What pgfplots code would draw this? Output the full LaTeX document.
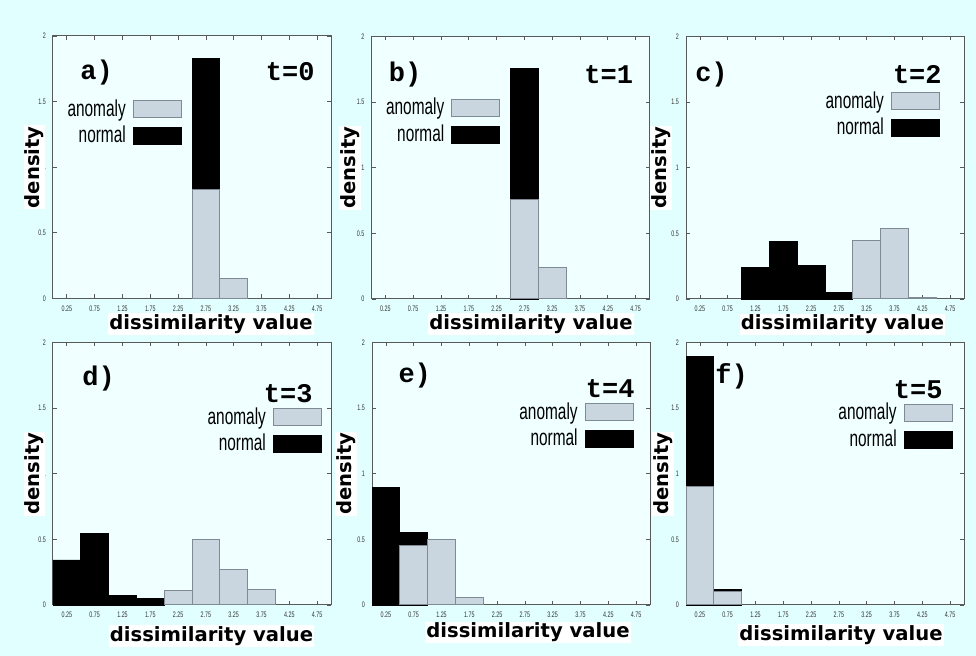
\documentclass[border=0pt]{standalone}
\usepackage{fontspec}
\setmainfont{Liberation Sans}
\newfontfamily\labfont{DejaVu Sans}
\newfontfamily\monofont{Liberation Mono}
\newfontfamily\narrowfont[FakeStretch=0.67]{Liberation Sans}
\usepackage{pgfplots}
\pgfplotsset{compat=1.18}
\definecolor{bgout}{HTML}{E2FFFF}
\definecolor{bgin}{HTML}{F0FFFF}
\definecolor{anom}{HTML}{C9D6E0}
\definecolor{anomedge}{HTML}{7F8A94}
\newcommand\axlab{\labfont\bfseries\fontsize{9.8}{10}\selectfont}
\newcommand\panfont{\monofont\bfseries\fontsize{13.5}{14}\selectfont}
\newcommand\legfont{\narrowfont\fontsize{11.5}{11.5}\selectfont}
\newcommand\tickfont{\narrowfont\fontsize{4}{4}\selectfont}
\pgfplotsset{
  panel/.style={
    scale only axis, width=139pt, height=131.25pt,
    anchor=south west, clip=false,
    xmin=0, xmax=5, ymin=0, ymax=2,
    xtick={0.25,0.75,1.25,1.75,2.25,2.75,3.25,3.75,4.25,4.75},
    ytick={0,0.5,1,1.5,2},
    xticklabels={0.25,0.75,1.25,1.75,2.25,2.75,3.25,3.75,4.25,4.75},
    yticklabels={0,0.5,1,1.5,2},
    tick align=inside, major tick length=2pt,
    /pgf/number format/assume math mode=true,
    ticklabel style={font=\tickfont, text=black!80},
    axis line style={draw=black!65, line width=0.5pt},
    every tick/.style={draw=black!65, line width=0.4pt},
    axis background/.style={fill=bgin},
    legend image code/.code={\draw[##1] (0pt,-4.25pt) rectangle (24pt,4.25pt);},
    legend style={draw=none, fill=none, inner sep=0pt, font=\legfont,
      row sep=3.5pt, column sep=3.5pt, nodes={inner sep=0pt}},
    legend cell align=right, legend plot pos=right,
  },
  nbar/.style={ybar, bar width=0.5, bar shift=0pt, fill=black, draw=black, forget plot},
  abar/.style={ybar, bar width=0.5, bar shift=0pt, fill=anom, draw=anomedge, line width=0.5pt, forget plot},
}
\tikzset{
  lab/.style={fill=white, inner sep=0.5pt, font=\axlab},
  pan/.style={inner sep=0pt, font=\panfont},
}
\begin{document}
\begin{tikzpicture}
\fill[bgout] (0,0) rectangle (488pt,328pt);
\path[use as bounding box] (0,0) rectangle (488pt,328pt);

% a) t=0
\begin{axis}[panel, at={(26.5pt,178.75pt)},
  legend style={at={(rel axis cs:0.464,0.760)}, anchor=north east}]
\addlegendimage{fill=anom, draw=anomedge}\addlegendentry{anomaly}
\addlegendimage{fill=black, draw=black}\addlegendentry{normal}
\addplot[nbar] coordinates {(2.75,1.83)};
\addplot[abar] coordinates {(2.75,0.83) (3.25,0.155)};
\node[pan, anchor=west] at (rel axis cs:0.097,0.859) {a)};
\node[pan, anchor=east] at (rel axis cs:0.942,0.866) {t=0};
\node[lab, rotate=90] at ([xshift=-9.25pt]rel axis cs:0,0.5) {density};
\node[lab] at ([xshift=9.5pt,yshift=-12.75pt]rel axis cs:0.5,0) {dissimilarity value};
\end{axis}

% b) t=1
\begin{axis}[panel, at={(185.75pt,178.5pt)},
  legend style={at={(rel axis cs:0.464,0.766)}, anchor=north east}]
\addlegendimage{fill=anom, draw=anomedge}\addlegendentry{anomaly}
\addlegendimage{fill=black, draw=black}\addlegendentry{normal}
\addplot[nbar] coordinates {(2.75,1.76)};
\addplot[abar] coordinates {(2.75,0.76) (3.25,0.243)};
\node[pan, anchor=west] at (rel axis cs:0.061,0.855) {b)};
\node[pan, anchor=east] at (rel axis cs:0.942,0.855) {t=1};
\node[lab, rotate=90] at ([xshift=-10.75pt]rel axis cs:0,0.5) {density};
\node[lab] at ([xshift=10.25pt,yshift=-12.5pt]rel axis cs:0.5,0) {dissimilarity value};
\end{axis}

% c) t=2
\begin{axis}[panel, at={(343pt,178.5pt)},
  legend style={at={(rel axis cs:0.914,0.792)}, anchor=north east}]
\addlegendimage{fill=anom, draw=anomedge}\addlegendentry{anomaly}
\addlegendimage{fill=black, draw=black}\addlegendentry{normal}
\addplot[nbar] coordinates {(1.25,0.238) (1.75,0.437) (2.25,0.258) (2.75,0.048)};
\addplot[abar] coordinates {(3.25,0.448) (3.75,0.539) (4.25,0.01)};
\node[pan, anchor=west] at (rel axis cs:0.032,0.855) {c)};
\node[pan, anchor=east] at (rel axis cs:0.921,0.855) {t=2};
\node[lab, rotate=90] at ([xshift=-12.5pt]rel axis cs:0,0.5) {density};
\node[lab] at ([xshift=8.75pt,yshift=-12.75pt]rel axis cs:0.5,0) {dissimilarity value};
\end{axis}

% d) t=3
\begin{axis}[panel, at={(26.5pt,25.5pt)},
  legend style={at={(rel axis cs:0.968,0.754)}, anchor=north east}]
\addlegendimage{fill=anom, draw=anomedge}\addlegendentry{anomaly}
\addlegendimage{fill=black, draw=black}\addlegendentry{normal}
\addplot[nbar] coordinates {(0.25,0.343) (0.75,0.542) (1.25,0.073) (1.75,0.053)};
\addplot[abar] coordinates {(2.25,0.113) (2.75,0.502) (3.25,0.272) (3.75,0.121)};
\node[pan, anchor=west] at (rel axis cs:0.104,0.863) {d)};
\node[pan, anchor=east] at (rel axis cs:0.935,0.804) {t=3};
\node[lab, rotate=90] at ([xshift=-9.25pt]rel axis cs:0,0.5) {density};
\node[lab] at ([xshift=9.75pt,yshift=-15.5pt]rel axis cs:0.5,0) {dissimilarity value};
\end{axis}

% e) t=4
\begin{axis}[panel, at={(186pt,25.5pt)},
  legend style={at={(rel axis cs:0.942,0.773)}, anchor=north east}]
\addlegendimage{fill=anom, draw=anomedge}\addlegendentry{anomaly}
\addlegendimage{fill=black, draw=black}\addlegendentry{normal}
\addplot[nbar] coordinates {(0.25,0.893) (0.75,0.552)};
\addplot[abar] coordinates {(0.75,0.451) (1.25,0.502) (1.75,0.055)};
\node[pan, anchor=west] at (rel axis cs:0.094,0.874) {e)};
\node[pan, anchor=east] at (rel axis cs:0.946,0.824) {t=4};
\node[lab, rotate=90] at ([xshift=-13pt]rel axis cs:0,0.5) {density};
\node[lab] at ([xshift=8.5pt,yshift=-13.75pt]rel axis cs:0.5,0) {dissimilarity value};
\end{axis}

% f) t=5
\begin{axis}[panel, at={(343pt,25.5pt)},
  legend style={at={(rel axis cs:0.960,0.770)}, anchor=north east}]
\addlegendimage{fill=anom, draw=anomedge}\addlegendentry{anomaly}
\addlegendimage{fill=black, draw=black}\addlegendentry{normal}
\addplot[nbar] coordinates {(0.25,1.894) (0.75,0.116)};
\addplot[abar] coordinates {(0.25,0.905) (0.75,0.103)};
\node[pan, anchor=west] at (rel axis cs:0.104,0.870) {f)};
\node[pan, anchor=east] at (rel axis cs:0.924,0.821) {t=5};
\node[lab, rotate=90] at ([xshift=-11.5pt]rel axis cs:0,0.5) {density};
\node[lab] at ([xshift=8pt,yshift=-15pt]rel axis cs:0.5,0) {dissimilarity value};
\end{axis}
\end{tikzpicture}
\end{document}
